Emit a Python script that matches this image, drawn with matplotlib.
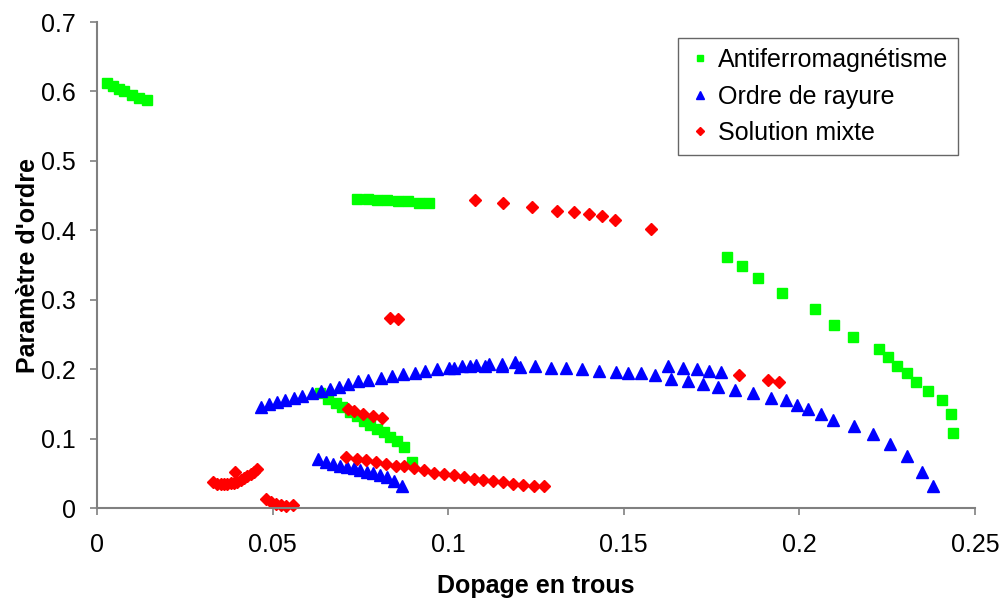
import matplotlib
matplotlib.use("Agg")
import matplotlib.pyplot as plt
from matplotlib.ticker import FuncFormatter, MultipleLocator

plt.rcParams['font.family'] = ['Liberation Sans', 'DejaVu Sans']

# Antiferromagnétisme
afm_x = [0.0028, 0.0045, 0.0063, 0.0078, 0.0099, 0.0121, 0.0142,
         0.0741, 0.0772, 0.0798, 0.0826, 0.0856, 0.0886, 0.0918, 0.0945,
         0.0635, 0.0659, 0.0680, 0.0699, 0.0721, 0.0740, 0.0759, 0.0778,
         0.0797, 0.0816, 0.0835, 0.0854, 0.0873, 0.0898,
         0.1794, 0.1836, 0.1882, 0.1952, 0.2045, 0.2099, 0.2154, 0.2228,
         0.2254, 0.2279, 0.2306, 0.2333, 0.2366, 0.2406, 0.2433, 0.2439]
afm_y = [0.612, 0.608, 0.604, 0.600, 0.595, 0.590, 0.587,
         0.445, 0.445, 0.443, 0.443, 0.442, 0.442, 0.440, 0.439,
         0.165, 0.157, 0.151, 0.145, 0.138, 0.132, 0.125, 0.120,
         0.114, 0.109, 0.103, 0.097, 0.088, 0.067,
         0.362, 0.349, 0.332, 0.310, 0.287, 0.264, 0.246, 0.229,
         0.217, 0.205, 0.194, 0.182, 0.169, 0.155, 0.136, 0.108]

# Ordre de rayure
stripe_x = [0.0466, 0.0491, 0.0512, 0.0535, 0.0561, 0.0585, 0.0612, 0.0637,
            0.0664, 0.0689, 0.0714, 0.0744, 0.0773, 0.0808, 0.0841, 0.0872,
            0.0906, 0.0934, 0.0968, 0.1003, 0.1017, 0.1039, 0.1062, 0.1079,
            0.1105, 0.1117, 0.1153, 0.1154, 0.1191, 0.1205, 0.1248, 0.1293,
            0.1335, 0.1381, 0.1430, 0.1477, 0.1513, 0.1549, 0.1589,
            0.1627, 0.1668, 0.1708, 0.1744, 0.1777,
            0.1635, 0.1682, 0.1726, 0.1768, 0.1816, 0.1869, 0.1919, 0.1962,
            0.1993, 0.2024, 0.2061, 0.2097, 0.2157, 0.2209, 0.2257, 0.2306,
            0.2349, 0.2382,
            0.0630, 0.0652, 0.0673, 0.0692, 0.0713, 0.0732, 0.0749, 0.0768,
            0.0787, 0.0806, 0.0825, 0.0846, 0.0868]
stripe_y = [0.146, 0.150, 0.153, 0.156, 0.159, 0.162, 0.166, 0.169,
            0.172, 0.175, 0.179, 0.183, 0.185, 0.187, 0.190, 0.193,
            0.195, 0.197, 0.200, 0.201, 0.201, 0.204, 0.204, 0.206,
            0.204, 0.207, 0.208, 0.204, 0.211, 0.203, 0.204, 0.201,
            0.201, 0.200, 0.198, 0.196, 0.195, 0.194, 0.191,
            0.204, 0.201, 0.200, 0.197, 0.196,
            0.186, 0.183, 0.179, 0.175, 0.170, 0.165, 0.159, 0.155,
            0.148, 0.142, 0.136, 0.127, 0.118, 0.106, 0.092, 0.075,
            0.052, 0.031,
            0.070, 0.066, 0.064, 0.061, 0.059, 0.057, 0.055, 0.052,
            0.050, 0.048, 0.044, 0.039, 0.032]

# Solution mixte
mixed_x = [0.1077, 0.1156, 0.1238, 0.1311, 0.1357, 0.1402, 0.1439, 0.1474, 0.1577,
           0.0833, 0.0858,
           0.0714, 0.0733, 0.0757, 0.0785, 0.0813,
           0.1829, 0.1910, 0.1943,
           0.0709, 0.0740, 0.0767, 0.0795, 0.0823, 0.0852, 0.0875, 0.0904,
           0.0932, 0.0961, 0.0988, 0.1018, 0.1046, 0.1073, 0.1100, 0.1128,
           0.1157, 0.1186, 0.1214, 0.1245, 0.1274,
           0.0331, 0.0343, 0.0352, 0.0362, 0.0371, 0.0381, 0.0390, 0.0400,
           0.0409, 0.0419, 0.0428, 0.0438, 0.0447, 0.0457, 0.0393,
           0.0481, 0.0496, 0.0509, 0.0523, 0.0538, 0.0557]
mixed_y = [0.443, 0.440, 0.434, 0.428, 0.427, 0.423, 0.420, 0.415, 0.402,
           0.274, 0.272,
           0.143, 0.140, 0.135, 0.132, 0.129,
           0.192, 0.185, 0.182,
           0.073, 0.070, 0.069, 0.067, 0.064, 0.061, 0.060, 0.057,
           0.055, 0.051, 0.049, 0.047, 0.044, 0.042, 0.041, 0.039,
           0.037, 0.035, 0.033, 0.032, 0.031,
           0.037, 0.035, 0.034, 0.034, 0.035, 0.036, 0.036, 0.038,
           0.040, 0.043, 0.046, 0.049, 0.052, 0.056, 0.052,
           0.013, 0.009, 0.006, 0.004, 0.003, 0.005]

fig = plt.figure(figsize=(10.01, 6.0), dpi=100)
ax = fig.add_axes([0.0969, 0.1533, 0.877, 0.81])

ax.plot(afm_x, afm_y, 's', color='#00ff00', markersize=7, clip_on=False,
        label='Antiferromagnétisme')
ax.plot(stripe_x, stripe_y, '^', color='#0000ff', markersize=8.5, clip_on=False,
        label='Ordre de rayure')
ax.plot(mixed_x, mixed_y, 'D', color='#ff0000', markersize=6, clip_on=False,
        label='Solution mixte')

ax.set_xlim(0, 0.25)
ax.set_ylim(0, 0.7)
ax.xaxis.set_major_locator(MultipleLocator(0.05))
ax.yaxis.set_major_locator(MultipleLocator(0.1))
fmt = FuncFormatter(lambda v, pos: '0' if abs(v) < 1e-9 else f'{v:g}')
ax.xaxis.set_major_formatter(fmt)
ax.yaxis.set_major_formatter(fmt)

for side in ['top', 'right']:
    ax.spines[side].set_visible(False)
for side in ['left', 'bottom']:
    ax.spines[side].set_color('#808080')
    ax.spines[side].set_linewidth(1.5)
ax.tick_params(direction='out', length=5, width=1.2, color='#808080',
               labelsize=18)
ax.tick_params(axis='x', pad=13)
ax.tick_params(axis='y', pad=10)

ax.set_xlabel('Dopage en trous', fontsize=18, fontweight='bold', labelpad=12)
ax.set_ylabel("Paramètre d'ordre", fontsize=18, fontweight='bold', labelpad=1)

leg = ax.legend(loc='upper right', bbox_to_anchor=(0.981, 0.967), fontsize=18,
                markerscale=0.7, frameon=True, fancybox=False,
                handletextpad=0.2, handlelength=1.0, borderpad=0.4,
                labelspacing=0.5, borderaxespad=0)
leg.get_frame().set_edgecolor('#404040')
leg.get_frame().set_linewidth(1.0)

fig.savefig('out.png', dpi=100)
